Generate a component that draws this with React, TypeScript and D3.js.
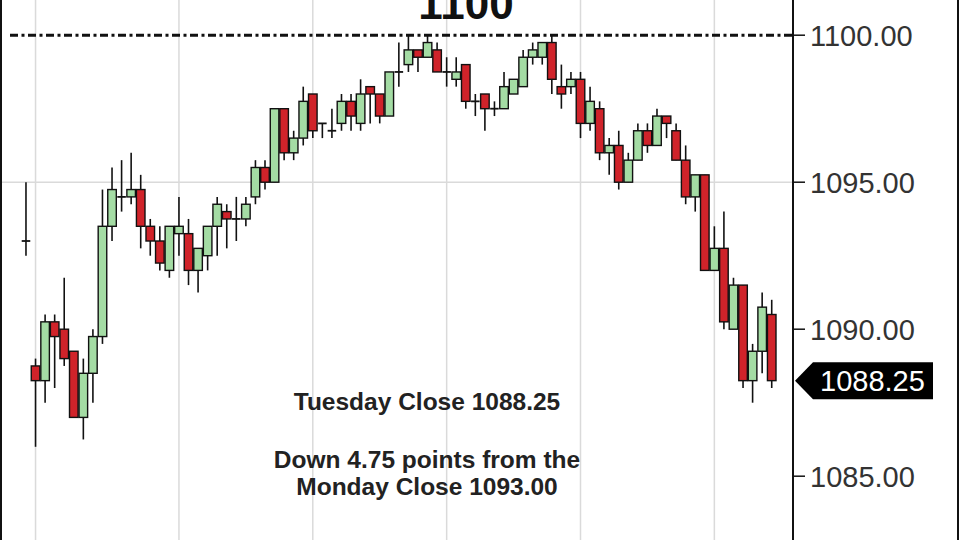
import * as d3 from 'd3';
import React from 'react';

const WIDTH = 960;
const HEIGHT = 540;

// bar data (one bar per index, first bar = Monday close)
const opens = [
  1093, 1088.75, 1088.25, 1090.25, 1090, 1089.25, 1087, 1088.5, 1089.75, 1093.5,
  1094.5, 1094.5, 1094.75, 1093.5, 1093, 1092, 1093.25, 1093.25, 1092, 1092.5,
  1093.5, 1094, 1093.75, 1093.75, 1094.5, 1095.5, 1095, 1097.5, 1096, 1096.5,
  1098, 1097, 1096.75, 1097, 1097.75, 1097, 1098.25, 1098, 1097.25, 1098.75,
  1099, 1099.5, 1099.25, 1099.5, 1098.75, 1098.5, 1099, 1097.75, 1098, 1097.5,
  1097.5, 1098, 1098.25, 1099.25, 1099.25, 1099.75, 1098.25, 1098.25, 1098.5, 1097,
  1097.5, 1096, 1096.25, 1095, 1095.75, 1096.75, 1096.25, 1097.25, 1096.75, 1095.75,
  1094.5, 1095.25, 1092, 1092.75, 1090, 1091.5, 1088.25, 1089.25, 1090.5,
];
const highs = [
  1095, 1089, 1090.5, 1090.5, 1091.75, 1089.25, 1089, 1090, 1094.75, 1095.5,
  1095.75, 1096, 1095.25, 1093.75, 1093.5, 1093.5, 1094.5, 1093.75, 1092.75, 1093.5,
  1094.5, 1094.25, 1094.5, 1094.5, 1095.75, 1095.75, 1097.5, 1097.5, 1096.75, 1098.25,
  1098, 1097, 1097.5, 1098, 1098, 1098.5, 1098.25, 1098, 1098.75, 1099.75,
  1100, 1099.5, 1100, 1099.75, 1099.25, 1099.25, 1099, 1098, 1098, 1097.75,
  1098.75, 1098.5, 1099.5, 1099.75, 1099.75, 1100, 1099, 1098.75, 1098.75, 1098.25,
  1097.75, 1096.5, 1096.75, 1096, 1097, 1097, 1097.5, 1097.25, 1097, 1096.25,
  1095.25, 1095.25, 1093.5, 1094, 1091.75, 1091.5, 1089.5, 1091.25, 1091,
];
const lows = [
  1092.5, 1086, 1087.5, 1088, 1088.75, 1087, 1086.25, 1087.5, 1089.5, 1093,
  1094, 1094.25, 1092.75, 1092.5, 1092, 1091.75, 1092.5, 1091.5, 1091.25, 1092,
  1092.5, 1092.75, 1093, 1093.5, 1094.25, 1094.75, 1095, 1095.75, 1095.75, 1096.25,
  1096.5, 1096.5, 1096.5, 1096.75, 1096.75, 1096.75, 1097, 1097, 1097.25, 1098.25,
  1098.75, 1098.75, 1099.25, 1098.75, 1098.25, 1098.25, 1097.5, 1097.25, 1096.75, 1097.25,
  1097.5, 1098, 1098.25, 1099, 1099, 1098, 1097.5, 1098, 1096.5, 1096.75,
  1095.75, 1095.25, 1094.75, 1095, 1095.75, 1096, 1096.25, 1096.5, 1095.75, 1094.25,
  1094, 1092, 1092, 1090, 1090, 1088, 1087.5, 1088.5, 1088,
];
const closes = [
  1093, 1088.25, 1090.25, 1089.75, 1089, 1087, 1088.5, 1089.75, 1093.5, 1094.75,
  1094.5, 1094.75, 1093.5, 1093, 1092.25, 1093.5, 1093.5, 1092, 1092.75, 1093.5,
  1094.25, 1093.75, 1093.75, 1094.25, 1095.5, 1095, 1097.5, 1096, 1096.5, 1097.75,
  1096.75, 1097, 1096.75, 1097.75, 1097.25, 1098, 1098, 1097.25, 1098.75, 1098.75,
  1099.5, 1099.25, 1099.75, 1098.75, 1098.75, 1098.75, 1097.75, 1097.75, 1097.5, 1097.5,
  1098.25, 1098.5, 1099.25, 1099.5, 1099.75, 1098.5, 1098, 1098.5, 1097, 1097.75,
  1096, 1096.25, 1095, 1095.75, 1096.75, 1096.25, 1097.25, 1097, 1095.75, 1094.5,
  1095.25, 1092, 1092.75, 1090.25, 1091.5, 1088.25, 1089.25, 1090.75, 1088.25,
];

const priceTicks = [1100, 1095, 1090, 1085];
const gridPrices = [1095];
const gridBars = [1, 16, 30, 44, 58, 72];
const levelPrice = 1100;
const levelLabel = '1100';
const lastPrice = 1088.25;
const notes = ['Tuesday Close 1088.25', 'Down 4.75 points from the', 'Monday Close 1093.00'];

const UP = '#a4dca4';
const DOWN = '#d0232a';
const FONT = '"Liberation Sans", Arial, sans-serif';
const AXIS_X = 793;

export default function App() {
  const bars = d3.range(opens.length);

  const yScale = d3.scaleLinear().domain([1085, 1100]).range([476.2, 35.2]);
  const xScale = d3.scaleBand<number>().domain(bars).range([21.2, 776.5]).padding(0);
  const bw = xScale.bandwidth();
  const cx = (i: number) => (xScale(i) ?? 0) + bw / 2;

  const candles = bars.map(i => {
    const o = opens[i];
    const c = closes[i];
    const x = cx(i);
    const top = yScale(Math.max(o, c));
    const bottom = yScale(Math.min(o, c));
    return (
      <g key={i}>
        <line x1={x} x2={x} y1={yScale(highs[i])} y2={yScale(lows[i])} stroke="#111" strokeWidth={1.6} />
        {o === c ? (
          <line x1={x - bw / 2 + 0.5} x2={x + bw / 2 - 0.5} y1={top} y2={top} stroke="#111" strokeWidth={1.8} />
        ) : (
          <rect
            x={x - bw / 2 + 0.5}
            y={top}
            width={bw - 1}
            height={bottom - top}
            fill={c > o ? UP : DOWN}
            stroke="#111"
            strokeWidth={1.4}
          />
        )}
      </g>
    );
  });

  const yLast = yScale(lastPrice);

  return (
    <svg
      width={WIDTH}
      height={HEIGHT}
      style={{ position: 'absolute', left: 0, top: 0, background: '#fff', display: 'block' }}
    >
      {/* grid */}
      {gridBars.map(i => (
        <line key={i} x1={cx(i)} x2={cx(i)} y1={0} y2={HEIGHT} stroke="#dadada" strokeWidth={1.5} />
      ))}
      {gridPrices.map(p => (
        <line key={p} x1={2} x2={AXIS_X} y1={yScale(p)} y2={yScale(p)} stroke="#dadada" strokeWidth={1.5} />
      ))}

      {/* 1100 level */}
      <line
        x1={10}
        x2={AXIS_X}
        y1={yScale(levelPrice)}
        y2={yScale(levelPrice)}
        stroke="#111"
        strokeWidth={3}
        strokeDasharray="8 3.5 3 3.5"
      />
      <text x={466} y={19} textAnchor="middle" fontFamily={FONT} fontWeight="bold" fontSize={44} fill="#111">
        {levelLabel}
      </text>

      {candles}

      {/* notes */}
      {notes.map((t, k) => (
        <text
          key={t}
          x={427}
          y={[410, 468, 495][k]}
          textAnchor="middle"
          fontFamily={FONT}
          fontWeight="bold"
          fontSize={24.5}
          fill="#222"
        >
          {t}
        </text>
      ))}

      {/* frame and price axis */}
      <line x1={1} x2={1} y1={0} y2={HEIGHT} stroke="#111" strokeWidth={2} />
      <line x1={AXIS_X} x2={AXIS_X} y1={0} y2={HEIGHT} stroke="#111" strokeWidth={2} />
      <line x1={958} x2={958} y1={0} y2={HEIGHT} stroke="#111" strokeWidth={2} />
      {priceTicks.map(p => (
        <g key={p} transform={`translate(0,${yScale(p)})`}>
          <line x1={AXIS_X} x2={805} stroke="#111" strokeWidth={1.5} />
          <text x={810} dy="0.36em" fontFamily={FONT} fontSize={29} fill="#333">
            {d3.format('.2f')(p)}
          </text>
        </g>
      ))}

      {/* last price marker */}
      <polygon
        points={[
          [795, yLast],
          [813, yLast - 18.5],
          [933, yLast - 18.5],
          [933, yLast + 18.5],
          [813, yLast + 18.5],
        ]
          .map(pt => pt.join(','))
          .join(' ')}
        fill="#000"
      />
      <text x={820} y={yLast} dy="0.36em" fontFamily={FONT} fontSize={29} fill="#fff">
        {d3.format('.2f')(lastPrice)}
      </text>
    </svg>
  );
}
